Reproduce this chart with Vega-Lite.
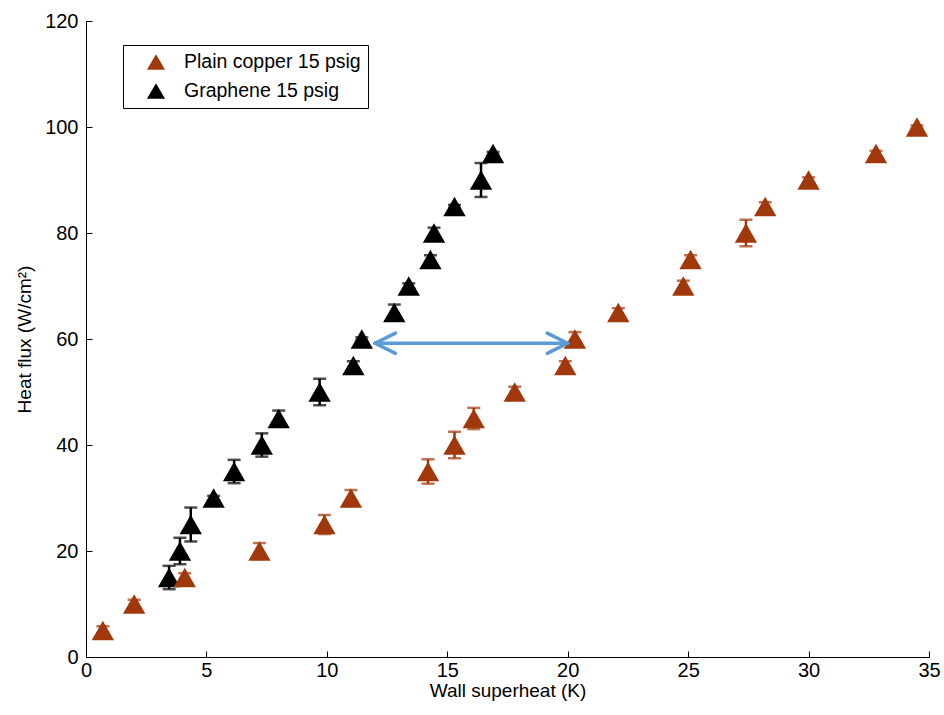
{
  "$schema": "https://vega.github.io/schema/vega-lite/v6.json",
  "width": 843,
  "height": 636,
  "autosize": {"type": "none"},
  "padding": {"left": 86, "top": 21, "right": 15, "bottom": 58},
  "background": "white",
  "config": {
    "view": {"stroke": null},
    "font": "Liberation Sans",
    "axis": {
      "grid": false,
      "domainColor": "black",
      "domainWidth": 1,
      "tickColor": "black",
      "tickWidth": 1,
      "tickSize": -6,
      "labelFlush": false,
      "labelColor": "black",
      "labelFont": "Liberation Sans",
      "labelFontSize": 20,
      "titleColor": "black",
      "titleFont": "Liberation Sans",
      "titleFontSize": 19,
      "titleFontWeight": "normal"
    }
  },
  "datasets": {
    "points": [
      {"series": "Graphene 15 psig", "superheat": 3.45, "flux": 15, "err": 2.2},
      {"series": "Graphene 15 psig", "superheat": 3.9, "flux": 20, "err": 2.5},
      {"series": "Graphene 15 psig", "superheat": 4.35, "flux": 25, "err": 3.2},
      {"series": "Graphene 15 psig", "superheat": 5.3, "flux": 30, "err": 0.4},
      {"series": "Graphene 15 psig", "superheat": 6.15, "flux": 35, "err": 2.2},
      {"series": "Graphene 15 psig", "superheat": 7.3, "flux": 40, "err": 2.2},
      {"series": "Graphene 15 psig", "superheat": 8.0, "flux": 45, "err": 1.5},
      {"series": "Graphene 15 psig", "superheat": 9.7, "flux": 50, "err": 2.5},
      {"series": "Graphene 15 psig", "superheat": 11.1, "flux": 55, "err": 0.8},
      {"series": "Graphene 15 psig", "superheat": 11.45, "flux": 60, "err": 0.3},
      {"series": "Graphene 15 psig", "superheat": 12.8, "flux": 65, "err": 1.5},
      {"series": "Graphene 15 psig", "superheat": 13.4, "flux": 70, "err": 0.5},
      {"series": "Graphene 15 psig", "superheat": 14.3, "flux": 75, "err": 0.8},
      {"series": "Graphene 15 psig", "superheat": 14.45, "flux": 80, "err": 1.0},
      {"series": "Graphene 15 psig", "superheat": 15.3, "flux": 85, "err": 0.3},
      {"series": "Graphene 15 psig", "superheat": 16.4, "flux": 90, "err": 3.2},
      {"series": "Graphene 15 psig", "superheat": 16.9, "flux": 95, "err": 0.3},
      {"series": "Plain copper 15 psig", "superheat": 0.7, "flux": 5, "err": 0.8},
      {"series": "Plain copper 15 psig", "superheat": 2.0, "flux": 10, "err": 0.8},
      {"series": "Plain copper 15 psig", "superheat": 4.1, "flux": 15, "err": 0.8},
      {"series": "Plain copper 15 psig", "superheat": 7.2, "flux": 20, "err": 1.5},
      {"series": "Plain copper 15 psig", "superheat": 9.9, "flux": 25, "err": 1.8},
      {"series": "Plain copper 15 psig", "superheat": 11.0, "flux": 30, "err": 1.5},
      {"series": "Plain copper 15 psig", "superheat": 14.2, "flux": 35, "err": 2.3},
      {"series": "Plain copper 15 psig", "superheat": 15.3, "flux": 40, "err": 2.5},
      {"series": "Plain copper 15 psig", "superheat": 16.1, "flux": 45, "err": 2.0},
      {"series": "Plain copper 15 psig", "superheat": 17.8, "flux": 50, "err": 1.0},
      {"series": "Plain copper 15 psig", "superheat": 19.9, "flux": 55, "err": 0.8},
      {"series": "Plain copper 15 psig", "superheat": 20.3, "flux": 60, "err": 1.3},
      {"series": "Plain copper 15 psig", "superheat": 22.1, "flux": 65, "err": 0.8},
      {"series": "Plain copper 15 psig", "superheat": 24.8, "flux": 70, "err": 1.0},
      {"series": "Plain copper 15 psig", "superheat": 25.1, "flux": 75, "err": 0.8},
      {"series": "Plain copper 15 psig", "superheat": 27.4, "flux": 80, "err": 2.5},
      {"series": "Plain copper 15 psig", "superheat": 28.2, "flux": 85, "err": 0.8},
      {"series": "Plain copper 15 psig", "superheat": 30.0, "flux": 90, "err": 0.5},
      {"series": "Plain copper 15 psig", "superheat": 32.8, "flux": 95, "err": 0.5},
      {"series": "Plain copper 15 psig", "superheat": 34.5, "flux": 100, "err": 0.3}
    ],
    "arrow": [
      {"x": 12.0, "y": 59.2, "x2": 20.0, "y2": 59.2},
      {"x": 12.0, "y": 59.2, "x2": 12.85, "y2": 61.1},
      {"x": 12.0, "y": 59.2, "x2": 12.85, "y2": 57.3},
      {"x": 20.0, "y": 59.2, "x2": 19.15, "y2": 61.1},
      {"x": 20.0, "y": 59.2, "x2": 19.15, "y2": 57.3}
    ]
  },
  "resolve": {"legend": {"color": "independent"}},
  "encoding": {
    "x": {
      "field": "superheat",
      "type": "quantitative",
      "title": "Wall superheat (K)",
      "scale": {"domain": [0, 35], "nice": false, "zero": false},
      "axis": {"values": [0, 5, 10, 15, 20, 25, 30, 35], "labelPadding": 9, "titlePadding": 1}
    },
    "y": {
      "field": "flux",
      "type": "quantitative",
      "title": "Heat flux (W/cm²)",
      "scale": {"domain": [0, 120], "nice": false},
      "axis": {"values": [0, 20, 40, 60, 80, 100, 120], "labelPadding": 14, "titlePadding": 10}
    }
  },
  "layer": [
    {
      "data": {"name": "points"},
      "mark": {
        "type": "errorbar",
        "ticks": {"size": 13, "thickness": 2.5},
        "rule": {"strokeWidth": 2.5}
      },
      "encoding": {
        "yError": {"field": "err"},
        "color": {
          "field": "series",
          "type": "nominal",
          "scale": {
            "domain": ["Plain copper 15 psig", "Graphene 15 psig"],
            "range": ["#A0380C", "#000000"]
          },
          "legend": null
        }
      }
    },
    {
      "data": {"name": "points"},
      "mark": {"type": "point", "shape": "triangle-up", "filled": true, "opacity": 1, "size": 500},
      "encoding": {
        "color": {
          "field": "series",
          "type": "nominal",
          "scale": {
            "domain": ["Plain copper 15 psig", "Graphene 15 psig"],
            "range": ["#A0380C", "#000000"]
          },
          "legend": {
            "title": null,
            "orient": "none",
            "legendX": 37,
            "legendY": 24,
            "strokeColor": "black",
            "fillColor": "white",
            "cornerRadius": 0,
            "padding": 7,
            "symbolType": "triangle-up",
            "symbolSize": 330,
            "symbolOffset": 16,
            "labelOffset": 18,
            "labelFontSize": 19.5,
            "labelLimit": 400,
            "labelColor": "black",
            "labelFont": "Liberation Sans",
            "rowPadding": 9
          }
        }
      }
    },
    {
      "data": {"name": "arrow"},
      "mark": {"type": "rule", "color": "#5B9BD5", "strokeWidth": 3.5, "strokeCap": "round"},
      "encoding": {
        "x": {"field": "x", "type": "quantitative"},
        "y": {"field": "y", "type": "quantitative"},
        "x2": {"field": "x2"},
        "y2": {"field": "y2"}
      }
    }
  ]
}
